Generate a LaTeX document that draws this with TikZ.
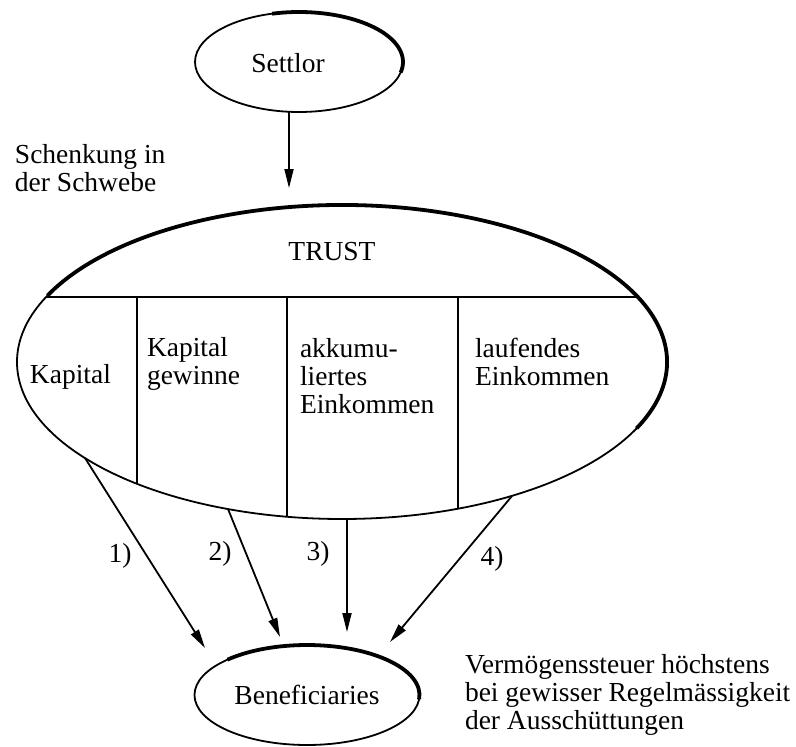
\documentclass[tikz,border=0pt]{standalone}
\usepackage{fontspec}
\setmainfont{Liberation Serif}
\usetikzlibrary{arrows.meta,shapes.geometric}
\begin{document}
\begin{tikzpicture}[x=1pt,y=-1pt,
  every node/.style={font=\fontsize{27.5}{28}\selectfont, inner sep=0pt, outer sep=0pt},
  oval/.style={draw, ellipse, line width=1.8pt},
  rim/.style={line width=3.8pt},
  divider/.style={line width=1.8pt},
  flow/.style={line width=1.8pt, -{Triangle[length=19pt,width=9pt]}},
  txt/.style={align=left, anchor=north west},
]
\useasboundingbox (0,0) rectangle (796,747);

% Settlor
\node[oval, minimum width=208pt, minimum height=100pt] (settlor) at (299,62) {};
\draw[rim] (settlor.center) ++(105:104pt and 50pt) arc[start angle=105, end angle=-12, x radius=104pt, y radius=50pt];
\node (settlortext) at (288,63) {Settlor};

% note left
\node[txt] (schenkung) at (15,144) {Schenkung in\\der Schwebe};

% Trust
\node[oval, minimum width=650pt, minimum height=314pt] (trust) at (342,362) {};
\draw[rim] (trust.center) ++(155:325pt and 157pt) arc[start angle=155, end angle=-25, x radius=325pt, y radius=157pt];
\node (trusttext) at (332,252) {TRUST};

\coordinate (settip) at (289,188);
\draw[flow] (settip |- settlor.south) -- (settip);

% compartments
\draw[divider] (46,297) -- (638,297);
\draw[divider] (137,297) -- (137,484);
\draw[divider] (287,297) -- (287,517);
\draw[divider] (458,297) -- (458,509);

\node[anchor=base west] (kap) at (30,383) {Kapital};
\node[txt] (kapg) at (147,337) {Kapital\\gewinne};
\node[txt] (akk) at (300,338) {akkumu-\\liertes\\Einkommen};
\node[txt] (lauf) at (475,338) {laufendes\\Einkommen};

% Beneficiaries
\node[oval, minimum width=225pt, minimum height=100pt] (benef) at (307,695) {Beneficiaries};
\draw[rim] (benef.center) ++(135:112.5pt and 50pt) arc[start angle=135, end angle=-5, x radius=112.5pt, y radius=50pt];

% distribution arrows
\coordinate (a1) at (85,458);  \coordinate (t1) at (205,648);
\coordinate (a2) at (228,509); \coordinate (t2) at (280,637);
\coordinate (a3) at (347,519); \coordinate (t3) at (347,632);
\coordinate (a4) at (512,496); \coordinate (t4) at (390,642);
\draw[flow] (a1) -- (t1);
\draw[flow] (a2) -- (t2);
\draw[flow] (a3) -- (t3);
\draw[flow] (a4) -- (t4);

\node (l1) at (120,556) {1)};
\node (l2) at (220,554) {2)};
\node (l3) at (318,554) {3)};
\node (l4) at (492,559) {4)};

% note right
\node[txt] (verm) at (465,654) {Vermögenssteuer höchstens\\bei gewisser Regelmässigkeit\\der Ausschüttungen};
\end{tikzpicture}
\end{document}
